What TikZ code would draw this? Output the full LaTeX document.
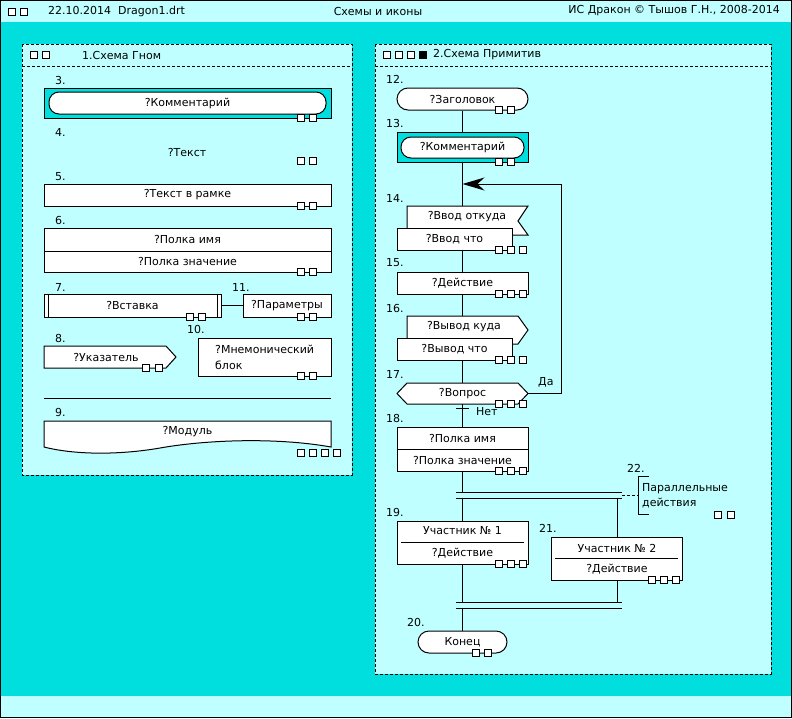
\documentclass[tikz,border=0pt]{standalone}
\usepackage{fontspec}
\setmainfont{DejaVu Sans}
\usetikzlibrary{arrows.meta}
\definecolor{tealbg}{RGB}{0,222,222}
\definecolor{pale}{RGB}{192,255,255}
\newcommand\sqr[2]{\draw[fill=white,line width=1pt] (#1,#2-3.5) rectangle ++(7,7);}
\newcommand\sqf[2]{\draw[fill=black,line width=1pt] (#1,#2-3.5) rectangle ++(7,7);}
\tikzset{
  every node/.style={font=\fontsize{11}{13}\selectfont, inner sep=0pt, text=black},
  bx/.style={draw, fill=white, line width=1pt},
  lbl/.style={anchor=west},
  ln/.style={line width=1pt},
  panel/.style={draw, fill=pale, line width=1pt, dash pattern=on 3pt off 2pt},
}
\begin{document}
\begin{tikzpicture}[x=1pt,y=-1pt]
\useasboundingbox (0,0) rectangle (792,718);
% background
\fill[pale] (0,0) rectangle (792,22);
\fill[tealbg] (0,22) rectangle (792,696);
\fill[pale] (0,696) rectangle (792,718);
\draw[ln] (0.5,0.5) rectangle (791.5,717.5);
% header
\sqr{8}{11.5}\sqr{20}{11.5}
\node[lbl] (hdate) at (48,11) {22.10.2014\ \ Dragon1.drt};
\node (htitle) at (378,11) {Схемы и иконы};
\node[anchor=east] (hcopy) at (780,11) {ИС Дракон © Тышов Г.Н., 2008-2014};

% ---------------- left panel
\path[panel] (22,44) rectangle (352,475);
\draw[ln, dash pattern=on 3pt off 2pt] (22,66) -- (352,66);
\sqr{30}{55}\sqr{42}{55}
\node[lbl] (lt) at (82,55) {1.Схема Гном};

\node[lbl] (l3) at (55,80) {3.};
\node[draw, fill=tealbg, line width=1pt, minimum width=287, minimum height=30] (c3o) at (187.5,103) {};
\node[bx, rounded corners=10, minimum width=277, minimum height=22] (c3) at (187.5,103) {?Комментарий};
\sqr{297}{118}\sqr{309}{118}

\node[lbl] (l4) at (55,132) {4.};
\node (t4) at (187,152) {?Текст};
\sqr{297}{160.5}\sqr{309}{160.5}

\node[lbl] (l5) at (55,177) {5.};
\node[bx, minimum width=287, minimum height=22] (b5) at (187.5,195) {?Текст в рамке};
\sqr{297}{206}\sqr{309}{206}

\node[lbl] (l6) at (55,220) {6.};
\node[bx, minimum width=287, minimum height=23] (b6a) at (187.5,239.5) {?Полка имя};
\node[bx, minimum width=287, minimum height=21] (b6b) at (187.5,261.5) {?Полка значение};
\sqr{297}{272}\sqr{309}{272}

\node[lbl] (l7) at (55,287) {7.};
\node[bx, minimum width=177, minimum height=23] (b7) at (132.5,305.5) {?Вставка};
\draw[ln] ([xshift=5]b7.north west) -- ([xshift=5]b7.south west);
\draw[ln] ([xshift=-4]b7.north east) -- ([xshift=-4]b7.south east);
\sqr{186}{317}\sqr{198}{317}
\node[lbl] (l11) at (232,287) {11.};
\node[bx, minimum width=88, minimum height=23] (b11) at (287,305.5) {?Параметры};
\sqr{297}{317}\sqr{309}{317}
\draw[ln] (b7.east) -- (b11.west);

\node[lbl] (l8) at (55,338) {8.};
\draw[ln, fill=white] (44,346) -- (166,346) -- (176,357) -- (166,368) -- (44,368) -- cycle;
\node (b8) at (106,357) {?Указатель};
\sqr{142}{368}\sqr{155}{368}

\node[lbl] (l10) at (187,329) {10.};
\node[bx, minimum width=133, minimum height=38] (b10) at (264.5,357) {};
\node[anchor=west, align=left, font=\fontsize{11}{16}\selectfont] (b10t) at (215,357) {?Мнемонический\\блок};
\sqr{297}{376}\sqr{309}{376}

\draw[ln] (44,398) -- (331,398);
\node[lbl] (l9) at (55,412) {9.};
\draw[ln, fill=white] (44,447) -- (44,421) -- (331,421) -- (331,447)
  .. controls (275,437) and (205,440) .. (160,448)
  .. controls (120,455) and (75,455) .. (44,447) -- cycle;
\node (b9) at (187.5,432) {?Модуль};
\sqr{297}{452.5}\sqr{309}{452.5}\sqr{321}{452.5}\sqr{333}{452.5}

% ---------------- right panel
\path[panel] (375,44) rectangle (771,674);
\draw[ln, dash pattern=on 3pt off 2pt] (375,66) -- (771,66);
\sqr{383}{55}\sqr{395}{55}\sqr{407}{55}\sqf{419}{55}
\node[lbl] (rt) at (433,55) {2.Схема Примитив};

% connectors first (behind shapes)
\coordinate (n14top) at (462.5,206);
\coordinate (n16top) at (462.5,316);
\coordinate (q17n) at (462.5,383);
\coordinate (q17s) at (462.5,404);
\coordinate (q17e) at (528,393);
\coordinate (loopA) at (561,393);
\coordinate (loopB) at (561,184);
\coordinate (loopC) at (462.5,184);
\coordinate (fork1) at (462.5,492);
\coordinate (fork2) at (462.5,498);
\coordinate (forkR) at (617,498);
\coordinate (join1) at (462.5,602);
\coordinate (join2) at (462.5,608);
\coordinate (joinR) at (617,602);

\node[lbl] (l12) at (386,79) {12.};
\node[bx, rounded corners=11, minimum width=131, minimum height=22] (n12) at (462.5,99) {?Заголовок};
\sqr{495}{110}\sqr{507}{110}

\node[lbl] (l13) at (386,123) {13.};
\node[draw, fill=tealbg, line width=1pt, minimum width=131, minimum height=30] (n13o) at (462.5,147) {};
\node[bx, rounded corners=10, minimum width=123, minimum height=21] (n13) at (462.5,147.5) {?Комментарий};
\sqr{495}{162}\sqr{507}{162}

\draw[ln] (n12.south) -- (n13o.north);
\draw[ln] (n13o.south) -- (n14top);
\draw[ln, -{Stealth[length=22pt, width=13pt, inset=7pt]}] (q17e) -- (loopA) -- (loopB) -- (loopC);

\node[lbl] (l14) at (386,198) {14.};
\draw[ln, fill=white] (407,235) -- (407,206) -- (528,206) -- (518,221) -- (528,235) -- cycle;
\node (n14a) at (467,217) {?Ввод откуда};
\node[bx, minimum width=115, minimum height=22] (n14) at (454.5,239) {?Ввод что};
\sqr{495}{250}\sqr{507}{250}\sqr{519}{250}

\node[lbl] (l15) at (386,263) {15.};
\node[bx, minimum width=131, minimum height=22] (n15) at (462.5,283) {?Действие};
\sqr{495}{294}\sqr{507}{294}\sqr{519}{294}
\draw[ln] (n14.south -| n15.north) -- (n15.north);
\draw[ln] (n15.south) -- (n16top);

\node[lbl] (l16) at (386,308) {16.};
\draw[ln, fill=white] (407,344) -- (407,316) -- (518,316) -- (528,330) -- (518,344) -- cycle;
\node (n16a) at (464,327) {?Вывод куда};
\node[bx, minimum width=115, minimum height=22] (n16) at (454.5,349) {?Вывод что};
\sqr{495}{360}\sqr{507}{360}\sqr{519}{360}
\draw[ln] (n16.south -| n15.north) -- (q17n);

\node[lbl] (l17) at (386,374) {17.};
\draw[ln, fill=white] (397,393.5) -- (407,383) -- (518,383) -- (528,393.5) -- (518,404) -- (407,404) -- cycle;
\node (n17) at (462.5,393.5) {?Вопрос};
\sqr{495}{404}\sqr{507}{404}\sqr{519}{404}
\node[lbl] (da) at (538,382) {Да};
\draw[ln] (456,408) -- (469,408);
\node[lbl] (net) at (476,412) {Нет};

\node[lbl] (l18) at (386,418) {18.};
\node[bx, minimum width=131, minimum height=22] (n18a) at (462.5,438) {?Полка имя};
\node[bx, minimum width=131, minimum height=22] (n18b) at (462.5,460) {?Полка значение};
\sqr{495}{471}\sqr{507}{471}\sqr{519}{471}
\draw[ln] (q17s) -- (n18a.north);
\draw[ln] (n18b.south) -- (fork1);

% fork
\draw[ln] (456,492) -- (622,492);
\draw[ln] (456,498) -- (622,498);

\node[lbl] (l19) at (386,512) {19.};
\node[bx, minimum width=131, minimum height=43] (n19) at (462.5,542.5) {};
\draw[ln] (401,542) -- (524,542);
\node (n19a) at (462.5,531) {Участник № 1};
\node (n19b) at (462.5,553) {?Действие};
\sqr{495}{564}\sqr{507}{564}\sqr{519}{564}
\draw[ln] (fork2) -- (n19.north);
\draw[ln] (n19.south) -- (join1);

\node[lbl] (l21) at (539,528) {21.};
\node[bx, minimum width=131, minimum height=43] (n21) at (617,558.5) {};
\draw[ln] (555,558) -- (678,558);
\node (n21a) at (617,548) {Участник № 2};
\node (n21b) at (617,569) {?Действие};
\sqr{648}{580}\sqr{660}{580}\sqr{672}{580}
\draw[ln] (forkR) -- (n21.north);
\draw[ln] (n21.south) -- (joinR);

% join
\draw[ln] (456,602) -- (622,602);
\draw[ln] (456,608) -- (622,608);

\node[lbl] (l20) at (407,622) {20.};
\node[bx, rounded corners=11, minimum width=89, minimum height=22] (n20) at (462.5,642) {Конец};
\sqr{472}{653}\sqr{484}{653}
\draw[ln] (join2) -- (n20.north);

% parallel comment
\node[lbl] (l22) at (627,468) {22.};
\coordinate (brT) at (649,476);
\coordinate (brB) at (649,514);
\draw[ln] (brT) -- (638,476) -- (638,514) -- (brB);
\draw[ln, dash pattern=on 3pt off 2pt] (622,495) -- (638,495);
\node[anchor=west, align=left, font=\fontsize{11}{15}\selectfont] (n22) at (642,495.5) {Параллельные\\действия};
\sqr{714}{514.5}\sqr{727}{514.5}
\end{tikzpicture}
\end{document}
